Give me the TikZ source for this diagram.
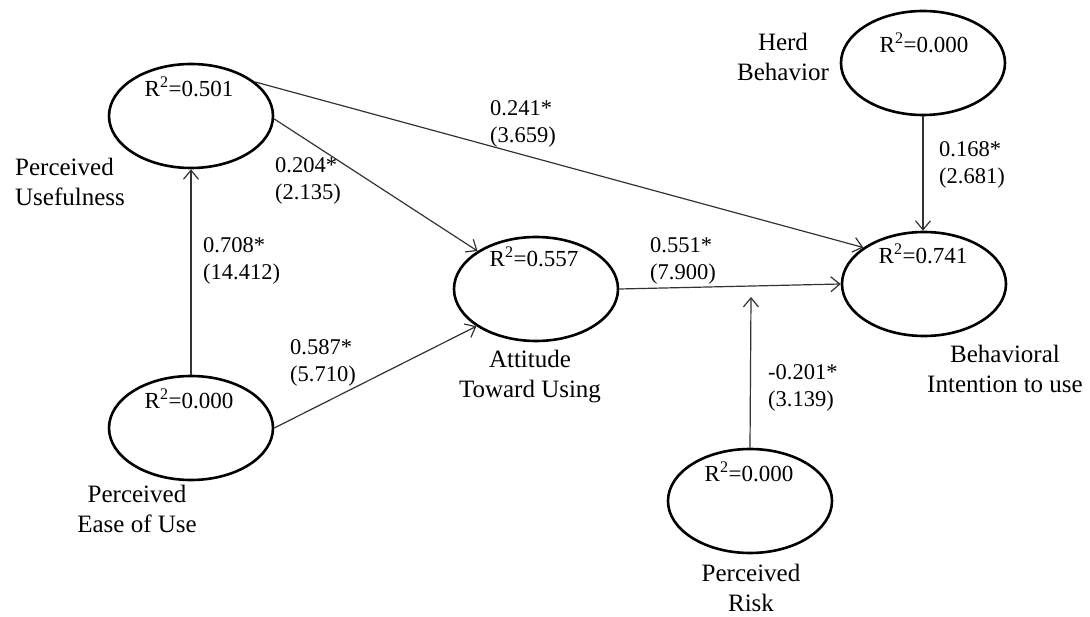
\documentclass[tikz,border=0pt]{standalone}
\usepackage{fontspec}
\setmainfont{Liberation Serif}
\usetikzlibrary{shapes.geometric,arrows.meta}
\begin{document}
\begin{tikzpicture}[x=1pt,y=-1pt,
  lv/.style={ellipse,draw=black,line width=2.6pt,minimum width=164pt,minimum height=104pt,inner sep=0pt},
  rsq/.style={font=\fontsize{23}{27}\selectfont,inner sep=0pt},
  nm/.style={font=\fontsize{25}{30}\selectfont,align=center,inner sep=0pt},
  nml/.style={font=\fontsize{25}{30}\selectfont,align=left,inner sep=0pt,anchor=west},
  coef/.style={font=\fontsize{22.5}{27}\selectfont,align=left,inner sep=0pt,anchor=west},
  conn/.style={draw=black!80,line width=1.2pt,-{Straight Barb[length=9pt,width=15pt,line width=1.2pt]}}
]
\useasboundingbox (0,0) rectangle (1090,617);

% latent variables
\node[lv] (pu) at (191,116) {};
\node[lv] (peou) at (191,428) {};
\node[lv] (atu) at (536,289) {};
\node[lv] (bi) at (924,284) {};
\node[lv] (herd) at (923,63) {};
\node[lv] (pr) at (750,501) {};

% R^2 values
\node[rsq] (rpu) at (189,87) {R\textsuperscript{2}=0.501};
\node[rsq] (rpeou) at (189,399) {R\textsuperscript{2}=0.000};
\node[rsq] (ratu) at (534,257) {R\textsuperscript{2}=0.557};
\node[rsq] (rbi) at (923,254) {R\textsuperscript{2}=0.741};
\node[rsq] (rherd) at (924,43) {R\textsuperscript{2}=0.000};
\node[rsq] (rpr) at (749,472) {R\textsuperscript{2}=0.000};

% names
\node[nml] (npu) at (15,182) {Perceived\\Usefulness};
\node[nm] (npeou) at (137,509) {Perceived\\Ease of Use};
\node[nm] (natu) at (530,377) {Attitude\\Toward Using};
\node[nm] (nbi) at (1005,369) {Behavioral\\Intention to use};
\node[nm] (nherd) at (783,57) {Herd\\Behavior};
\node[nm] (npr) at (751,588) {Perceived\\Risk};

% connectors
\coordinate (riskend) at (751,297);
\draw[conn] (peou.north) -- (pu.south);
\draw[conn] (pu.-2) -- (atu.147.5);
\draw[conn] (peou.east) -- (atu.212);
\draw[conn] (pu.28.7) -- (bi.149);
\draw[conn] (atu.east) -- (bi.west);
\draw[conn] (herd.south) -- (herd.south |- bi.north);
\draw[conn] (pr.north) -- (riskend);

% coefficients
\node[coef] (c1) at (490,124) {0.241*\\(3.659)};
\node[coef] (c2) at (275,181) {0.204*\\(2.135)};
\node[coef] (c3) at (203,261) {0.708*\\(14.412)};
\node[coef] (c4) at (290,363) {0.587*\\(5.710)};
\node[coef] (c5) at (650,261) {0.551*\\(7.900)};
\node[coef] (c6) at (768,388) {-0.201*\\(3.139)};
\node[coef] (c7) at (939,165) {0.168*\\(2.681)};
\end{tikzpicture}
\end{document}
